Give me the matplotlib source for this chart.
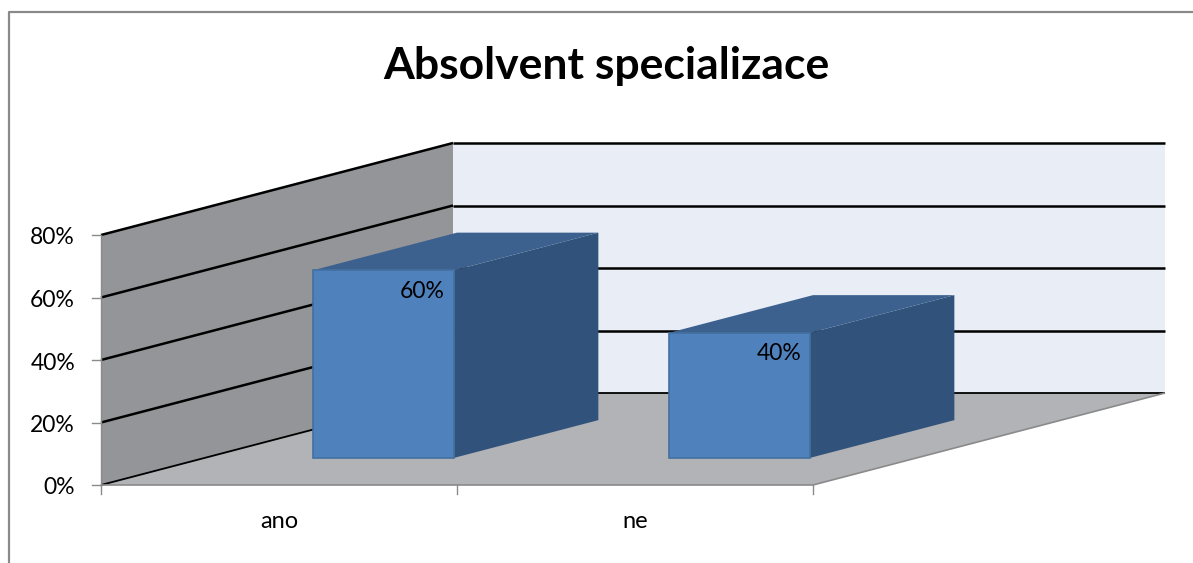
import numpy as np
import matplotlib
matplotlib.use("Agg")
import matplotlib.pyplot as plt
from matplotlib.patches import Polygon

plt.rcParams['font.family'] = ['Lato', 'DejaVu Sans']

title = "Absolvent specializace"
categories = ["ano", "ne"]
values = [60, 40]
value_labels = ["60%", "40%"]
y_ticks = [0, 20, 40, 60, 80]
y_tick_labels = ["0%", "20%", "40%", "60%", "80%"]

W, H = 1193, 563
CAT_W = 356.0     # px per category
PCT_H = 3.125     # px per percent
DEPTH_X = 352.0   # px shift from front to back of the box
DEPTH_Y = 92.0
ORIGIN = (101, 485)

BAR_X0, BAR_X1 = 0.303, 0.7
BAR_Z0, BAR_Z1 = 0.295, 0.705


def proj(x, y, z=0.0):
    # oblique projection, the axes itself stays in category / percent units
    return (x + z * DEPTH_X / CAT_W, y + z * DEPTH_Y / PCT_H)


def face(ax, pts, color, edge=None, lw=0.0, zorder=2):
    ax.add_patch(Polygon([proj(*p) for p in pts], closed=True, facecolor=color,
                         edgecolor=edge if edge else color, linewidth=lw, zorder=zorder))


def line3d(ax, a, b, color="black", lw=1.8, zorder=3):
    pa, pb = proj(*a), proj(*b)
    ax.plot([pa[0], pb[0]], [pa[1], pb[1]], color=color, lw=lw, zorder=zorder,
            solid_capstyle="butt")


fig = plt.figure(figsize=(W / 100, H / 100), dpi=100)
ax = fig.add_axes([0, 0, 1, 1])
ax.set_xlim(-ORIGIN[0] / CAT_W, (W - ORIGIN[0]) / CAT_W)
ax.set_ylim(-(H - ORIGIN[1]) / PCT_H, ORIGIN[1] / PCT_H)
ax.axis("off")

n = len(categories)
top = y_ticks[-1]

# chart frame (only left and top are visible)
ax.plot([9 / W, 9 / W, 1], [0, 1 - 12 / H, 1 - 12 / H], color="#8a8a8a", lw=1.6,
        transform=ax.transAxes, zorder=1)

# walls and floor
face(ax, [(0, 0, 1), (n, 0, 1), (n, top, 1), (0, top, 1)], "#E9EDF6", zorder=1)
face(ax, [(0, 0, 0), (0, 0, 1), (0, top, 1), (0, top, 0)], "#939598", zorder=1)
face(ax, [(0, 0, 0), (n, 0, 0), (n, 0, 1), (0, 0, 1)], "#B1B3B6", zorder=1)

# gridlines run along the side wall and the back wall
for t in y_ticks:
    line3d(ax, (0, t, 0), (0, t, 1), lw=1.8 if t else 1.3)
    line3d(ax, (0, t, 1), (n, t, 1), lw=1.8 if t else 1.3)

# axis lines and ticks
line3d(ax, (0, 0, 0), (0, top, 0), color="#8a8a8a", lw=1.0)
line3d(ax, (0, 0, 0), (n, 0, 0), color="#8a8a8a", lw=1.2)
line3d(ax, (n, 0, 0), (n, 0, 1), color="#8a8a8a", lw=1.2)
for t, lab in zip(y_ticks, y_tick_labels):
    ax.plot([-9 / CAT_W, 0], [t, t], color="#8a8a8a", lw=1.0, zorder=3)
    ax.text(-26 / CAT_W, t - 3 / PCT_H, lab, ha="right", va="center", fontsize=16.5, color="black")
for i in range(n + 1):
    ax.plot([i, i], [0, -9 / PCT_H], color="#8a8a8a", lw=1.0, zorder=3)
for i, cat in enumerate(categories):
    ax.text(i + 0.5, -36 / PCT_H, cat, ha="center", va="center", fontsize=17, color="black")

# boxes
for i, (v, lab) in enumerate(zip(values, value_labels)):
    x0, x1 = i + BAR_X0, i + BAR_X1
    face(ax, [(x1, 0, BAR_Z0), (x1, 0, BAR_Z1), (x1, v, BAR_Z1), (x1, v, BAR_Z0)],
         "#31527A", zorder=4)
    face(ax, [(x0, v, BAR_Z0), (x1, v, BAR_Z0), (x1, v, BAR_Z1), (x0, v, BAR_Z1)],
         "#3C618F", zorder=4)
    face(ax, [(x0, 0, BAR_Z0), (x1, 0, BAR_Z0), (x1, v, BAR_Z0), (x0, v, BAR_Z0)],
         "#4F81BD", edge="#44709F", lw=1.2, zorder=5)
    lx, ly = proj(x1, v, BAR_Z0)
    ax.text(lx - 9 / CAT_W, ly - 21 / PCT_H, lab, ha="right", va="center",
            fontsize=16.5, color="black", zorder=6)

ax.text(606 / W, 1 - 66 / H, title, transform=ax.transAxes, ha="center", va="center",
        fontsize=32, fontweight="bold", color="black")

fig.savefig("out.png", dpi=100)
